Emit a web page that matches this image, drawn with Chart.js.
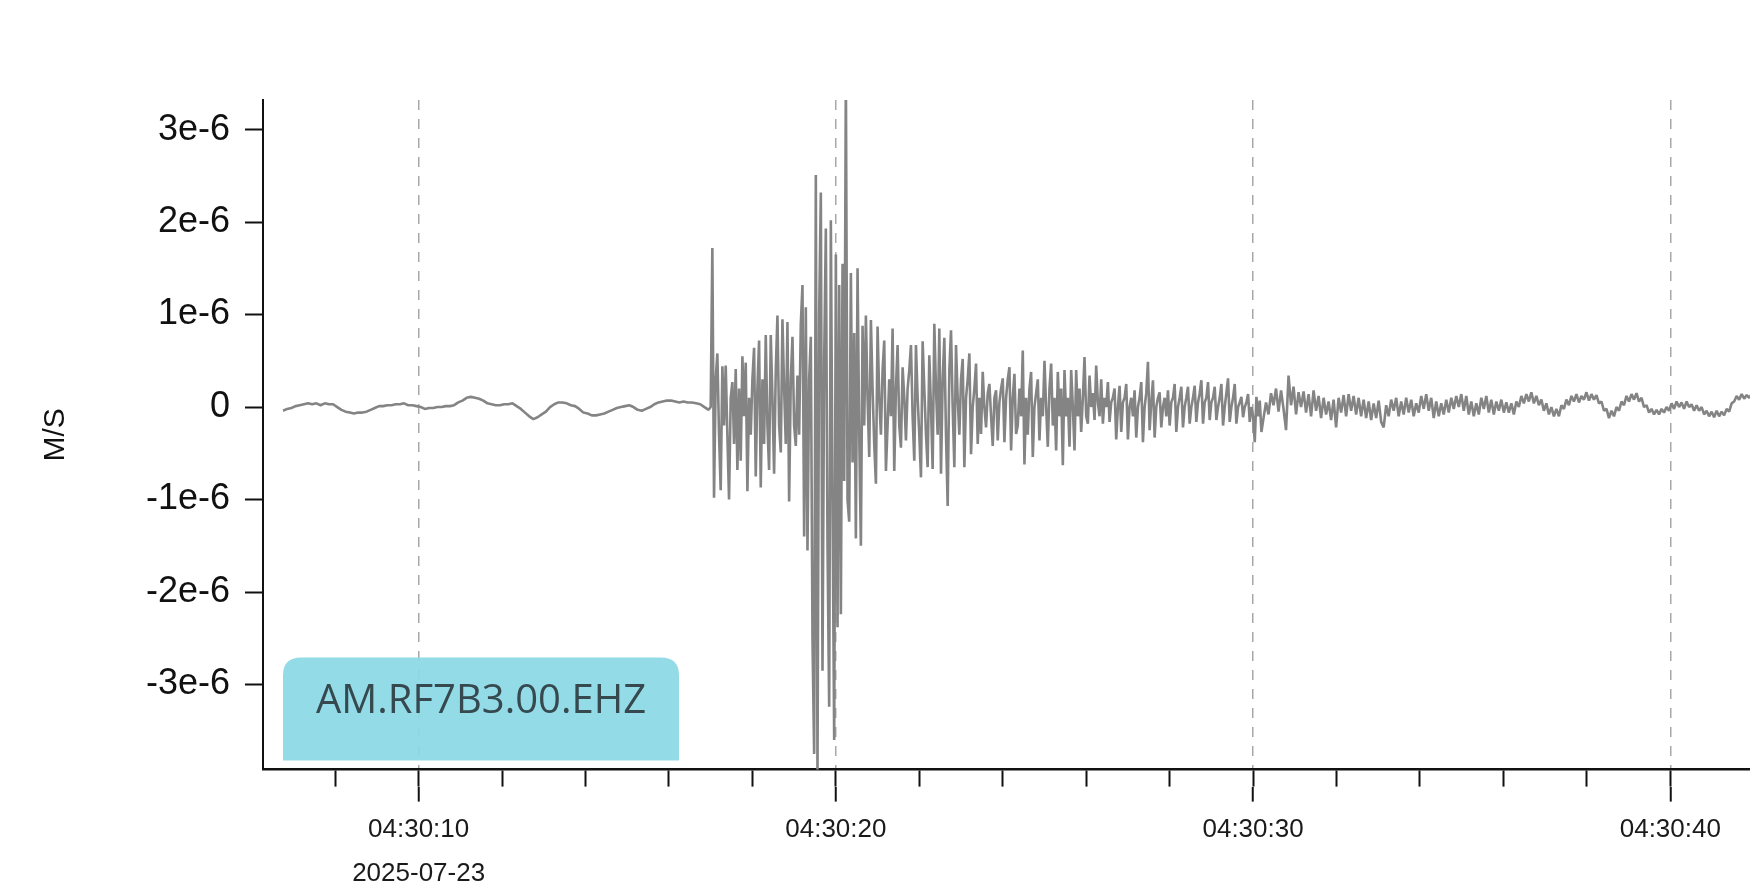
<!DOCTYPE html>
<html>
<head>
<meta charset="utf-8">
<script src="https://cdn.jsdelivr.net/npm/chart.js@4.4.1/dist/chart.umd.min.js"></script>
<style>
  html, body { margin: 0; padding: 0; background: #fff; }
  #wrap { width: 1750px; height: 895px; }
</style>
</head>
<body>
<div id="wrap"><canvas id="seis" width="1750" height="895"></canvas></div>
<script>
const channelName = "AM.RF7B3.00.EHZ";
const traceDate = "2025-07-23";
const hourMinute = "04:30";

// x is seconds after 04:30:00
const xMin = 6.27;
const xMax = 41.91;
const majorTicks = [10, 20, 30, 40];
const minorTicks = [8, 10, 12, 14, 16, 18, 20, 22, 24, 26, 28, 30, 32, 34, 36, 38, 40];

// y is in units of 1e-6 m/s
const yMin = -3.92;
const yMax = 3.32;
const yTicks = [3, 2, 1, 0, -1, -2, -3];

// before the arrival
const quietStart = 6.75, quietStep = 0.1;
const quietValues = [
  -0.04, -0.02, -0.01, 0.01, 0.02, 0.03, 0.04, 0.03, 0.04, 0.02,
  0.04, 0.03, 0.03, 0.0, -0.03, -0.05, -0.06, -0.07, -0.06, -0.06,
  -0.05, -0.03, -0.01, 0.01, 0.01, 0.02, 0.02, 0.03, 0.03, 0.04,
  0.02, 0.02, 0.01, 0.0, -0.02, -0.01, -0.01, 0.0, 0.0, 0.01,
  0.01, 0.02, 0.05, 0.07, 0.1, 0.11, 0.1, 0.09, 0.07, 0.04,
  0.03, 0.02, 0.02, 0.03, 0.03, 0.04, 0.01, -0.02, -0.06, -0.1,
  -0.13, -0.11, -0.08, -0.05, 0.0, 0.03, 0.05, 0.05, 0.04, 0.02,
  0.01, -0.02, -0.06, -0.07, -0.09, -0.09, -0.08, -0.07, -0.05, -0.03,
  -0.01, 0.0, 0.01, 0.02, 0.0, -0.03, -0.04, -0.02, 0.0, 0.03,
  0.05, 0.06, 0.07, 0.07, 0.06, 0.05, 0.06, 0.05, 0.05, 0.04,
  0.03, 0.0, -0.03
];

// the shaking
const eventStart = 17.0, eventStep = 0.04;
const eventValues = [
  0.0, 1.72, -0.98, 0.3, 0.58, -0.3, -0.9, 0.44, -0.2, 0.45,
  -0.3, -1.0, 0.1, 0.27, -0.4, 0.41, -0.68, 0.2, -0.58, 0.55,
  -0.1, 0.48, -0.91, 0.1, -0.3, 0.3, 0.64, -0.75, 0.2, 0.72,
  -0.87, 0.3, -0.4, 0.78, -0.2, -0.68, 0.78, 0.1, -0.72, 0.4,
  0.99, -0.2, -0.49, 0.95, 0.2, -0.4, 0.92, -1.02, 0.3, 0.76,
  -0.2, -0.42, 0.34, -0.3, 0.9, 1.32, -1.4, 1.08, -1.55, 0.3,
  0.76, -2.5, -3.75, 2.51, -3.95, 1.0, 2.32, -2.85, 0.5, 1.93,
  -1.5, -3.24, 2.02, -1.0, -3.6, 1.65, -2.38, 1.32, -2.24, 1.55,
  -0.8, 3.6, -1.0, -1.24, 1.45, -0.6, 0.8, -1.42, 1.5, -0.3,
  -1.5, 0.88, -0.2, 0.99, 0.1, -0.54, 0.94, 0.2, -0.4, -0.83,
  0.87, 0.1, -0.3, 0.4, 0.72, -0.69, -0.2, 0.3, -0.1, 0.85,
  -0.69, 0.2, 0.67, -0.2, -0.44, 0.43, 0.1, -0.36, 0.2, 0.4,
  0.67, -0.1, -0.58, 0.67, 0.1, -0.3, -0.76, 0.71, 0.2, -0.3,
  -0.65, 0.56, 0.0, -0.67, 0.9, 0.2, -0.3, 0.85, -0.72, 0.3,
  0.75, -0.3, -1.07, 0.4, 0.83, 0.0, -0.65, 0.67, 0.1, -0.3,
  0.3, 0.52, -0.65, 0.1, 0.3, 0.58, -0.51, 0.0, 0.2, 0.47,
  -0.4, 0.1, -0.29, 0.38, 0.0, -0.22, 0.15, 0.25, -0.1, -0.42,
  0.1, 0.18, -0.36, 0.05, 0.2, 0.31, -0.38, 0.1, 0.3, 0.43,
  -0.47, 0.1, 0.36, -0.29, -0.2, 0.2, -0.1, 0.61, -0.62, 0.1,
  -0.3, 0.2, 0.38, -0.54, 0.0, 0.15, 0.3, -0.36, 0.1, -0.1,
  0.5, 0.0, -0.43, 0.2, 0.47, -0.2, 0.1, -0.47, 0.38, -0.1,
  0.2, -0.63, 0.4, -0.1, 0.1, -0.43, 0.4, 0.0, -0.47, 0.4,
  -0.1, 0.2, -0.27, 0.1, 0.54, -0.1, -0.18, 0.34, 0.0, 0.15,
  -0.14, 0.45, 0.05, -0.1, 0.3, -0.18, 0.1, 0.0, 0.27, -0.16,
  0.05, 0.1, 0.2, -0.35, 0.0, 0.23, -0.27, 0.05, 0.1, 0.25,
  -0.35, 0.0, 0.1, -0.1, 0.18, -0.33, 0.0, 0.1, 0.27, -0.38,
  0.0, 0.15, 0.49, -0.25, 0.05, 0.29, -0.33, 0.0, 0.1, 0.16,
  -0.22, 0.0, 0.1, -0.1, 0.18, -0.2, 0.05, 0.1, 0.25, -0.27,
  0.0, 0.1, 0.22, -0.22, 0.0, 0.1, 0.22, -0.18, 0.0, 0.1,
  0.23, -0.16, 0.05, 0.15, 0.29, -0.18, 0.05, 0.1, 0.27, -0.14,
  0.05, 0.1, 0.22, -0.14, 0.0, 0.1, 0.25, -0.2, 0.0, 0.15,
  0.31, -0.16, 0.0, 0.1, 0.25, -0.18, 0.0, 0.05, 0.11, -0.11,
  0.0, 0.05, 0.14, -0.16, 0.0, -0.1, -0.38, 0.11, -0.1, 0.07,
  -0.27
];

// the tail
const codaStart = 30.25, codaStep = 0.06;
const codaValues = [
  -0.12, 0.05, -0.08, 0.15, 0.02, 0.2, -0.05, 0.18, -0.02, -0.25,
  0.34, 0.02, 0.22, -0.08, 0.16, 0.0, 0.17, -0.06, 0.14, -0.1,
  0.18, -0.04, 0.12, -0.12, 0.1, -0.08, 0.06, -0.14, 0.08, -0.22,
  0.1, -0.06, 0.13, -0.1, 0.14, -0.04, 0.12, -0.08, 0.1, -0.1,
  0.08, -0.12, 0.06, -0.14, 0.04, -0.12, 0.07, -0.16, -0.22, 0.02,
  -0.1, 0.08, -0.04, 0.1, -0.1, 0.06, -0.08, 0.1, -0.06, 0.08,
  -0.1, 0.04, -0.06, 0.12, -0.02, 0.14, -0.04, 0.1, -0.12, 0.06,
  -0.1, 0.04, -0.08, 0.08, -0.06, 0.1, -0.02, 0.12, 0.0, 0.14,
  -0.04, 0.12, -0.08, 0.06, -0.1, 0.04, -0.08, 0.1, -0.02, 0.12,
  -0.06, 0.08, -0.08, 0.06, -0.04, 0.08, -0.06, 0.05, -0.06, 0.04,
  -0.08, 0.06, 0.0, 0.12, 0.04, 0.14, 0.06, 0.16, 0.04, 0.12,
  0.02, 0.08, -0.04, 0.04, -0.08, 0.0, -0.1, -0.02, -0.1, 0.02,
  -0.02, 0.08, 0.02, 0.12, 0.06, 0.14, 0.05, 0.12, 0.08, 0.16,
  0.07, 0.14, 0.08, 0.13, 0.04, 0.06, -0.04, -0.02, -0.12, -0.04,
  -0.1, 0.0, -0.04, 0.06, 0.02, 0.12, 0.06, 0.14, 0.08, 0.15,
  0.06, 0.1, 0.0, 0.02, -0.06, -0.02, -0.08, -0.03, -0.08, -0.02,
  -0.06, 0.0, -0.04, 0.04, -0.02, 0.06, 0.0, 0.05, -0.02, 0.06,
  0.0, 0.03, -0.04, 0.02, -0.04, 0.0, -0.08, -0.04, -0.1, -0.05,
  -0.11, -0.04, -0.1, -0.05, -0.09, -0.02, -0.05, 0.04, 0.06, 0.12,
  0.08, 0.14, 0.09, 0.13, 0.1, 0.14
];

function toPoints(start, step, values) {
  return values.map((v, i) => ({ x: +(start + i * step).toFixed(3), y: v }));
}

const trace = [].concat(
  toPoints(quietStart, quietStep, quietValues),
  toPoints(eventStart, eventStep, eventValues),
  toPoints(codaStart, codaStep, codaValues)
);

// cyan name tag in the lower left corner of the plot
const channelTag = {
  id: "channelTag",
  beforeDatasetsDraw(chart) {
    const { ctx, chartArea } = chart;
    const left = chartArea.left + 20;
    const right = left + 396;
    const bottom = chartArea.bottom - 9;
    const top = bottom - 103;
    const r = 18;
    ctx.save();
    ctx.fillStyle = "rgba(140, 216, 230, 0.93)";
    ctx.beginPath();
    ctx.moveTo(left, bottom);
    ctx.lineTo(left, top + r);
    ctx.quadraticCurveTo(left, top, left + r, top);
    ctx.lineTo(right - r, top);
    ctx.quadraticCurveTo(right, top, right, top + r);
    ctx.lineTo(right, bottom);
    ctx.closePath();
    ctx.fill();
    ctx.fillStyle = "#35494f";
    ctx.font = '40px "Open Sans"';
    ctx.textAlign = "center";
    ctx.textBaseline = "middle";
    ctx.fillText(channelName, (left + right) / 2, top + 44);
    ctx.restore();
  }
};

new Chart(document.getElementById("seis"), {
  type: "line",
  data: {
    datasets: [{
      data: trace,
      borderColor: "#848484",
      borderWidth: 2.6,
      borderJoinStyle: "bevel",
      pointRadius: 0,
      tension: 0,
      fill: false
    }]
  },
  options: {
    responsive: false,
    animation: false,
    devicePixelRatio: 1,
    parsing: false,
    layout: { padding: { top: 100, right: 0, bottom: 1, left: 0 } },
    plugins: {
      legend: { display: false },
      tooltip: { enabled: false }
    },
    scales: {
      x: {
        type: "linear",
        position: "bottom",
        weight: 1,
        min: xMin,
        max: xMax,
        afterBuildTicks: (s) => { s.ticks = majorTicks.map((v) => ({ value: v })); },
        afterFit: (s) => { s.height -= 8; },
        grid: {
          drawOnChartArea: true,
          color: "#a8a8a8",
          lineWidth: 1.5,
          tickLength: 15,
          tickColor: "#111",
          tickWidth: 2
        },
        border: { display: false, dash: [10, 9] },
        ticks: {
          autoSkip: false,
          maxRotation: 0,
          padding: 6,
          color: "#1a1a1a",
          font: { family: "Liberation Sans", size: 26, lineHeight: 1.7 },
          callback: (v) => {
            const label = hourMinute + ":" + String(v).padStart(2, "0");
            return v === majorTicks[0] ? [label, traceDate] : label;
          }
        }
      },
      xMinor: {
        type: "linear",
        position: "bottom",
        weight: 0,
        min: xMin,
        max: xMax,
        afterBuildTicks: (s) => { s.ticks = minorTicks.map((v) => ({ value: v })); },
        grid: { drawOnChartArea: false, tickLength: 17, tickColor: "#111", tickWidth: 2 },
        border: { display: true, color: "#111", width: 2.5 },
        ticks: { display: false }
      },
      y: {
        type: "linear",
        position: "left",
        min: yMin,
        max: yMax,
        afterBuildTicks: (s) => { s.ticks = yTicks.map((v) => ({ value: v })); },
        afterFit: (s) => { s.width = 263; },
        grid: { drawOnChartArea: false, tickLength: 18, tickColor: "#111", tickWidth: 2 },
        border: { display: true, color: "#111", width: 2 },
        ticks: {
          padding: 15,
          color: "#111",
          font: { family: "Liberation Sans", size: 36 },
          callback: (v) => (v === 0 ? "0" : v + "e-6")
        },
        title: {
          display: true,
          text: "M/S",
          color: "#111",
          font: { family: "Liberation Sans", size: 30 },
          padding: { top: 38, bottom: 0 }
        }
      }
    }
  },
  plugins: [channelTag]
});
</script>
</body>
</html>
